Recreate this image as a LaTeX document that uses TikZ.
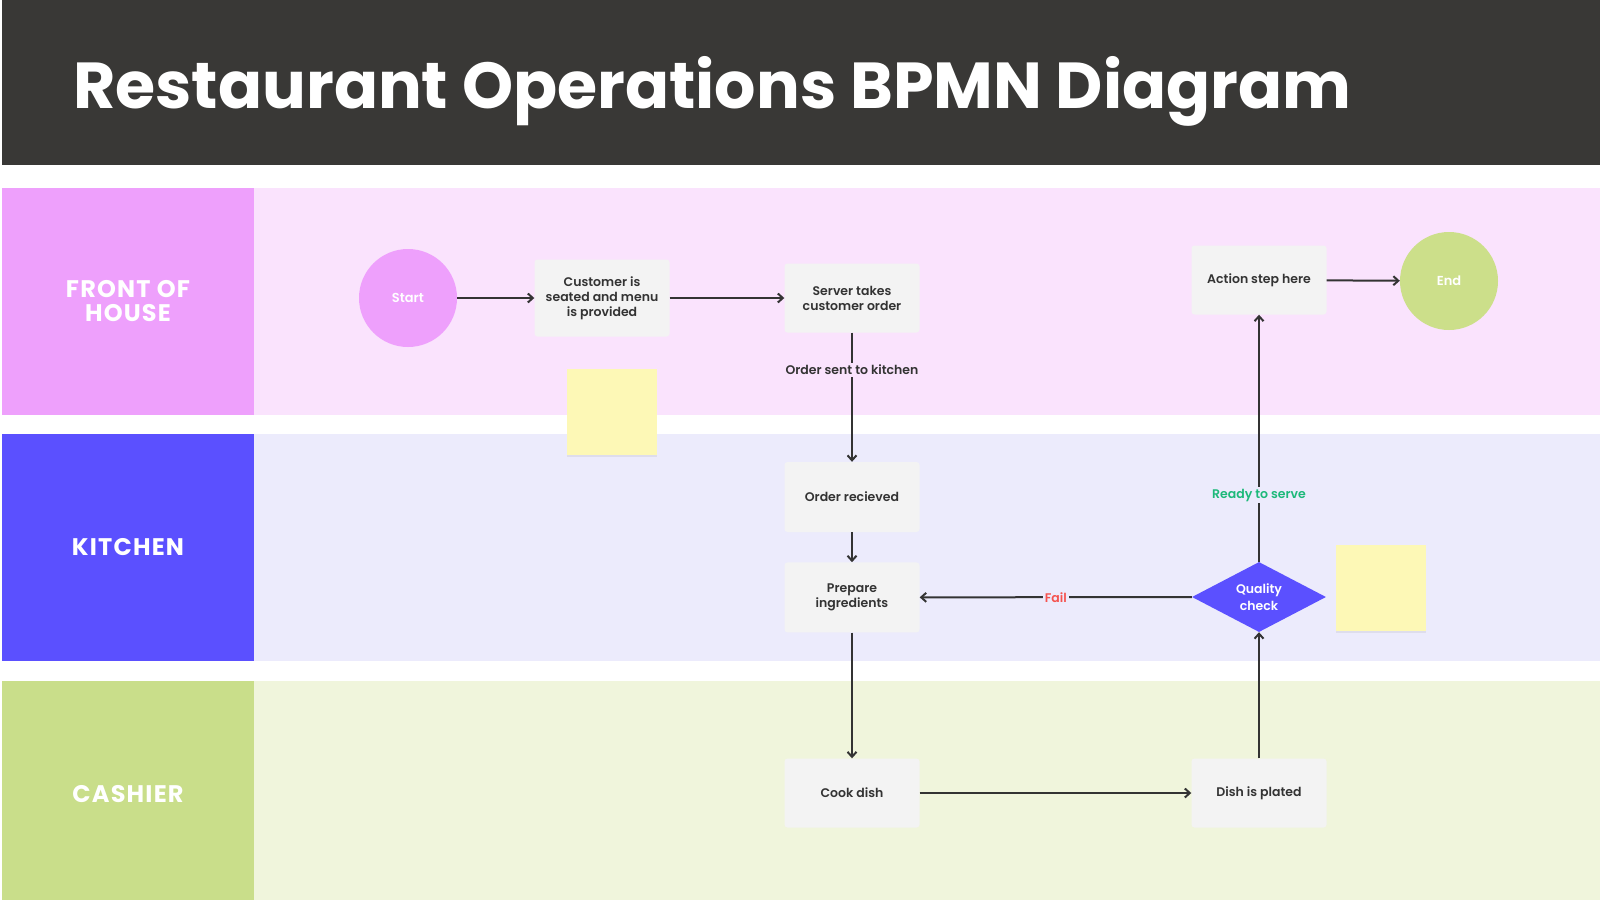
\documentclass[tikz,border=0pt]{standalone}
\usepackage{fontspec}
\setmainfont{Poppins}
\newfontfamily\semifont{Poppins SemiBold}
\newfontfamily\lanefont[LetterSpace=5]{Poppins}
\usepackage{xcolor}
\usetikzlibrary{arrows.meta, positioning, shapes.geometric, shadows}

\definecolor{headbg}{HTML}{393836}
\definecolor{fohdark}{HTML}{EEA0FC}
\definecolor{fohlight}{HTML}{FAE3FD}
\definecolor{kitdark}{HTML}{5B50FF}
\definecolor{kitlight}{HTML}{ECEBFC}
\definecolor{cashdark}{HTML}{C9DE8A}
\definecolor{cashlight}{HTML}{F0F5DC}
\definecolor{boxgray}{HTML}{F3F3F3}
\definecolor{inkdark}{HTML}{333333}
\definecolor{stickyyellow}{HTML}{FDF8B6}
\definecolor{readygreen}{HTML}{1DB97A}
\definecolor{failred}{HTML}{F5534F}
\definecolor{endgreen}{HTML}{CCDF8A}

\begin{document}
\begin{tikzpicture}[
        x=1pt, y=-1pt,
        task/.style={rounded corners=3pt, fill=boxgray, align=center, minimum width=135pt, minimum height=69pt, text=inkdark, font=\semifont\fontsize{12.5}{15}\selectfont},
        event/.style={circle, minimum size=98pt, inner sep=0pt, text=white, font=\semifont\fontsize{13}{15}\selectfont},
        gate/.style={diamond, fill=kitdark, minimum width=134pt, minimum height=70pt, inner sep=0pt, aspect=2, align=center, text=white, font=\semifont\fontsize{12.5}{17}\selectfont},
        lanebox/.style={minimum width=252pt, inner sep=0pt, align=center, text=white, font=\lanefont\bfseries\fontsize{24}{24}\selectfont},
        note/.style={fill=stickyyellow, minimum width=90pt, minimum height=86pt, drop shadow={shadow xshift=0pt, shadow yshift=-1.5pt, opacity=0.12}},
        arrow/.style={-{Straight Barb[length=5pt, width=9pt]}, line width=2pt, draw=inkdark},
        lbl/.style={inner sep=2pt, font=\semifont\fontsize{12.5}{15}\selectfont}
    ]
        \useasboundingbox (0,0) rectangle (1600,900);
        \fill[white] (0,0) rectangle (1600,900);

        % header
        \fill[headbg] (2,0) rectangle (1600,165);
        \node[anchor=base west, inner sep=0pt, text=white, font=\bfseries\fontsize{65}{72}\selectfont] (title) at (73,108) {Restaurant Operations BPMN Diagram};

        % lanes
        \fill[fohlight] (254,188) rectangle (1600,415);
        \fill[kitlight] (254,434) rectangle (1600,661);
        \fill[cashlight] (254,681) rectangle (1600,900);
        \node[lanebox, fill=fohdark, minimum height=227pt] (foh) at (128,301.5) {FRONT OF\\HOUSE};
        \node[lanebox, fill=kitdark, minimum height=227pt] (kitchen) at (128,547.5) {KITCHEN};
        \node[lanebox, fill=cashdark, minimum height=219pt] (cashier) at (128,790.5) {};
        \node[text=white, font=\lanefont\bfseries\fontsize{24}{24}\selectfont] (cashtxt) at (128,794) {CASHIER};

        % sticky notes
        \node[note] (note1) at (612,412) {};
        \node[note] (note2) at (1381,588) {};

        % flow nodes
        \node[event, fill=fohdark] (start) at (408,298) {Start};
        \node[task, minimum height=77pt] (cust) at (602,298) {Customer is\\seated and menu\\is provided};
        \node[task] (server) at (852,298) {Server takes\\customer order};
        \node[task, minimum height=70pt] (orderrec) at (852,497) {Order recieved};
        \node[task, minimum height=70pt, below=30pt of orderrec] (prep) {Prepare\\ingredients};
        \node[task] (cook) at (852,793) {Cook dish};
        \node[task] (plated) at (1259,793) {Dish is plated};
        \node[gate] (qcheck) at (1259,597) {Quality\\check};
        \node[task] (action) at (1259,280) {Action step here};
        \node[event, fill=endgreen] (end) at (1449,281) {End};

        \draw[arrow] (start) -- (cust);
        \draw[arrow] (cust) -- (server);
        \draw[arrow] (server) -- node[lbl, pos=0.29, fill=fohlight, text=inkdark] {Order sent to kitchen} (orderrec);
        \draw[arrow] (orderrec) -- (prep);
        \draw[arrow] (prep) -- (cook);
        \draw[arrow] (cook) -- (plated);
        \draw[arrow] (plated) -- (qcheck);
        \draw[arrow] (qcheck) -- node[lbl, pos=0.5, fill=kitlight, text=failred] {Fail} (prep);
        \draw[arrow] (qcheck) -- node[lbl, pos=0.27, fill=kitlight, text=readygreen] {Ready to serve} (action);
        \draw[arrow] (action) -- (end);
    \end{tikzpicture}
\end{document}
